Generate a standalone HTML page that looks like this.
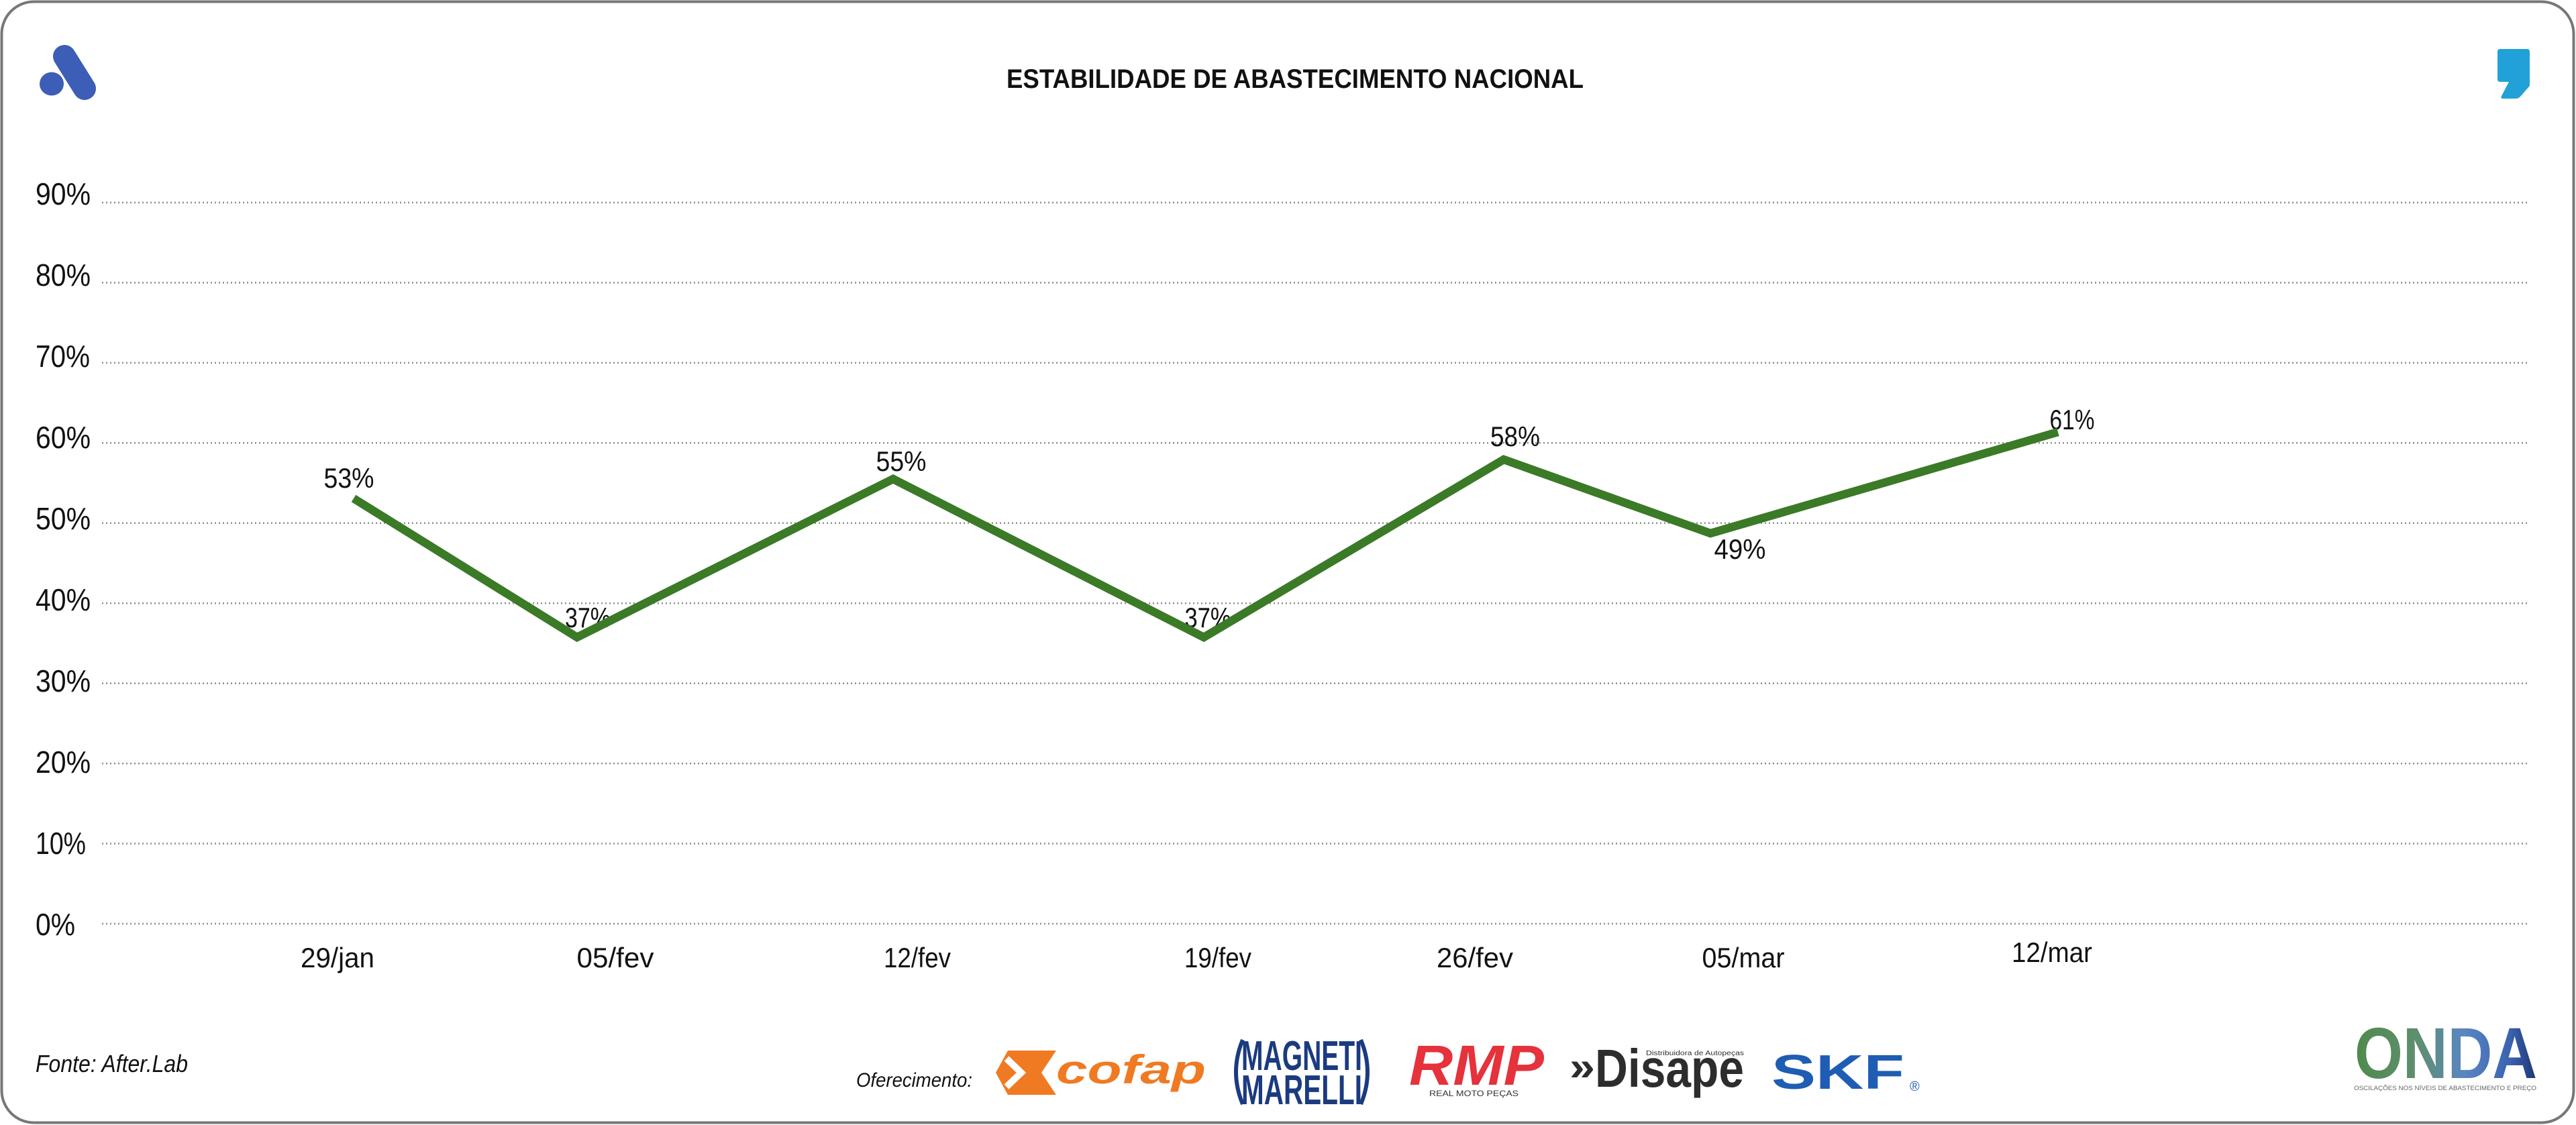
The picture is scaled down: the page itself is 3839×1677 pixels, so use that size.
<!DOCTYPE html>
<html>
<head>
<meta charset="utf-8">
<style>
  html,body{margin:0;padding:0;background:#fff;}
  svg{display:block;}
  text{font-family:"Liberation Sans", sans-serif;}
</style>
</head>
<body>
<svg width="3839" height="1677" viewBox="0 0 3839 1677" xmlns="http://www.w3.org/2000/svg">
  <defs>
    <linearGradient id="onda" x1="0" y1="0" x2="1" y2="0">
      <stop offset="0" stop-color="#4f8a4c"/>
      <stop offset="0.35" stop-color="#5f8f70"/>
      <stop offset="0.6" stop-color="#5a86c2"/>
      <stop offset="0.85" stop-color="#3b63b0"/>
      <stop offset="1" stop-color="#1e3575"/>
    </linearGradient>
  </defs>
  <rect x="0" y="0" width="3839" height="1677" fill="#fff"/>
  <!-- card border -->
  <rect x="2.5" y="2.5" width="3833" height="1671" rx="48" ry="48" fill="none" stroke="#777" stroke-width="4"/>

  <!-- top-left logo -->
  <line x1="96" y1="84" x2="126" y2="132" stroke="#3d5eb6" stroke-width="34" stroke-linecap="round"/>
  <ellipse cx="77" cy="125" rx="18" ry="17.5" fill="#3d5eb6"/>

  <!-- top-right comma logo -->
  <path d="M3726,73 L3766,73 Q3770,73 3770,77 L3770,128 L3756,144 Q3753,147 3749,147 L3730,147 Q3726,147 3728,143 L3739,122 L3726,122 Q3722,122 3722,118 L3722,77 Q3722,73 3726,73 Z" fill="#22a1d8"/>

  <!-- title -->
  <text x="1500" y="131" font-size="40" font-weight="bold" fill="#111" textLength="860" lengthAdjust="spacingAndGlyphs">ESTABILIDADE DE ABASTECIMENTO NACIONAL</text>

  <!-- gridlines -->
  <g stroke="#8c8c8c" stroke-width="2.5" stroke-dasharray="2 4" fill="none">
    <line x1="152" y1="302" x2="3770" y2="302"/>
    <line x1="152" y1="421.4" x2="3770" y2="421.4"/>
    <line x1="152" y1="540.9" x2="3770" y2="540.9"/>
    <line x1="152" y1="660.3" x2="3770" y2="660.3"/>
    <line x1="152" y1="779.8" x2="3770" y2="779.8"/>
    <line x1="152" y1="899.2" x2="3770" y2="899.2"/>
    <line x1="152" y1="1018.6" x2="3770" y2="1018.6"/>
    <line x1="152" y1="1138.1" x2="3770" y2="1138.1"/>
    <line x1="152" y1="1257.5" x2="3770" y2="1257.5"/>
    <line x1="152" y1="1377" x2="3770" y2="1377"/>
  </g>

  <!-- y axis labels -->
  <g font-size="46" fill="#111">
    <text x="53" y="305" textLength="82" lengthAdjust="spacingAndGlyphs">90%</text>
    <text x="53" y="426" textLength="82" lengthAdjust="spacingAndGlyphs">80%</text>
    <text x="53" y="547" textLength="81" lengthAdjust="spacingAndGlyphs">70%</text>
    <text x="53" y="668" textLength="82" lengthAdjust="spacingAndGlyphs">60%</text>
    <text x="53" y="789" textLength="82" lengthAdjust="spacingAndGlyphs">50%</text>
    <text x="53" y="910" textLength="82" lengthAdjust="spacingAndGlyphs">40%</text>
    <text x="53" y="1031" textLength="82" lengthAdjust="spacingAndGlyphs">30%</text>
    <text x="53" y="1152" textLength="82" lengthAdjust="spacingAndGlyphs">20%</text>
    <text x="53" y="1273" textLength="75" lengthAdjust="spacingAndGlyphs">10%</text>
    <text x="53" y="1394" textLength="59" lengthAdjust="spacingAndGlyphs">0%</text>
  </g>

  <!-- x axis labels -->
  <g font-size="42" fill="#111" text-anchor="middle">
    <text x="503" y="1442" textLength="110" lengthAdjust="spacingAndGlyphs">29/jan</text>
    <text x="917" y="1442" textLength="115" lengthAdjust="spacingAndGlyphs">05/fev</text>
    <text x="1367" y="1442" textLength="100" lengthAdjust="spacingAndGlyphs">12/fev</text>
    <text x="1815" y="1442" textLength="100" lengthAdjust="spacingAndGlyphs">19/fev</text>
    <text x="2198" y="1442" textLength="114" lengthAdjust="spacingAndGlyphs">26/fev</text>
    <text x="2598" y="1442" textLength="123" lengthAdjust="spacingAndGlyphs">05/mar</text>
    <text x="3058" y="1434" textLength="120" lengthAdjust="spacingAndGlyphs">12/mar</text>
  </g>

  <!-- data labels -->
  <g font-size="42" fill="#111" text-anchor="middle">
    <text x="520" y="727" textLength="75" lengthAdjust="spacingAndGlyphs">53%</text>
    <text x="876" y="935" textLength="68" lengthAdjust="spacingAndGlyphs">37%</text>
    <text x="1343" y="702" textLength="75" lengthAdjust="spacingAndGlyphs">55%</text>
    <text x="1800" y="935" textLength="69" lengthAdjust="spacingAndGlyphs">37%</text>
    <text x="2258" y="665" textLength="74" lengthAdjust="spacingAndGlyphs">58%</text>
    <text x="2593" y="833" textLength="77" lengthAdjust="spacingAndGlyphs">49%</text>
    <text x="3088" y="640" textLength="67" lengthAdjust="spacingAndGlyphs">61%</text>
  </g>

  <!-- series line -->
  <polyline points="527,743 860,950 1331,714 1794,950 2241,685 2549,795 3067,644" fill="none" stroke="#3b7a27" stroke-width="12.5" stroke-linejoin="miter" stroke-miterlimit="10" stroke-linecap="butt"/>

  <!-- footer: source -->
  <text x="53" y="1598" font-size="36" font-style="italic" fill="#111" textLength="227" lengthAdjust="spacingAndGlyphs">Fonte: After.Lab</text>

  <!-- footer: sponsors -->
  <text x="1276" y="1620" font-size="30" font-style="italic" fill="#111" textLength="173" lengthAdjust="spacingAndGlyphs">Oferecimento:</text>

  <!-- cofap -->
  <polygon points="1502,1566 1574,1566 1552,1599 1574,1632 1502,1632 1484,1599" fill="#f07a22"/>
  <polyline points="1500,1578 1522,1599 1500,1620" fill="none" stroke="#fff" stroke-width="10"/>
  <text x="1574" y="1615" font-size="60" font-weight="bold" font-style="italic" fill="#f07a22" textLength="223" lengthAdjust="spacingAndGlyphs">cofap</text>

  <!-- Magneti Marelli -->
  <path d="M1852,1550 Q1832,1598 1852,1646" fill="none" stroke="#1b3b80" stroke-width="6"/>
  <path d="M2028,1550 Q2048,1598 2028,1646" fill="none" stroke="#1b3b80" stroke-width="6"/>
  <text x="1940" y="1595" font-size="62" font-weight="bold" fill="#1b3b80" text-anchor="middle" textLength="180" lengthAdjust="spacingAndGlyphs">MAGNETI</text>
  <text x="1940" y="1646" font-size="62" font-weight="bold" fill="#1b3b80" text-anchor="middle" textLength="180" lengthAdjust="spacingAndGlyphs">MARELLI</text>

  <!-- RMP -->
  <text x="2100" y="1617" font-size="84" font-weight="bold" font-style="italic" fill="#e5323b" textLength="201" lengthAdjust="spacingAndGlyphs">RMP</text>
  <text x="2130" y="1634" font-size="12" fill="#333" textLength="133" lengthAdjust="spacingAndGlyphs">REAL MOTO PEÇAS</text>

  <!-- Disape -->
  <text x="2339" y="1610" font-size="60" font-weight="bold" fill="#2d2d2d" textLength="38" lengthAdjust="spacingAndGlyphs">»</text>
  <text x="2377" y="1620" font-size="80" font-weight="bold" fill="#2d2d2d" textLength="222" lengthAdjust="spacingAndGlyphs">Disape</text>
  <text x="2453" y="1573" font-size="10" fill="#333" textLength="146" lengthAdjust="spacingAndGlyphs">Distribuidora de Autopeças</text>

  <!-- SKF -->
  <text x="2640" y="1623" font-size="72" font-weight="bold" fill="#1f5db4" textLength="198" lengthAdjust="spacingAndGlyphs">SKF</text>
  <text x="2846" y="1626" font-size="20" fill="#1f5db4">®</text>

  <!-- ONDA -->
  <text x="3509" y="1607" font-size="108" font-weight="bold" fill="url(#onda)" textLength="272" lengthAdjust="spacingAndGlyphs">ONDA</text>
  <text x="3508" y="1625" font-size="9.5" fill="#666" textLength="272" lengthAdjust="spacingAndGlyphs">OSCILAÇÕES NOS NÍVEIS DE ABASTECIMENTO E PREÇO</text>
</svg>
</body>
</html>
